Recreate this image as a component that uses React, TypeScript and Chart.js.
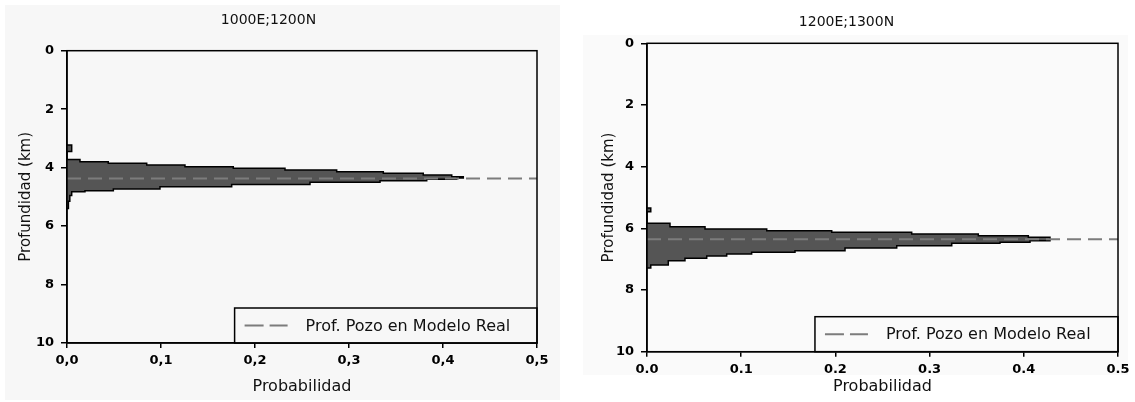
import React, { useEffect, useRef } from 'react';
import { Chart, registerables } from 'chart.js';

Chart.register(...registerables);
Chart.defaults.font.family = "'DejaVu Sans', sans-serif";

// ---------- data ----------
const leftTitle = '1000E;1200N';
const rightTitle = '1200E;1300N';
const xAxisTitle = 'Probabilidad';
const yAxisTitle = 'Profundidad (km)';
const legendLabel = 'Prof. Pozo en Modelo Real';
const xTickValues = [0, 0.1, 0.2, 0.3, 0.4, 0.5];
const xTickLabelsLeft = ['0,0', '0,1', '0,2', '0,3', '0,4', '0,5'];
const xTickLabelsRight = ['0.0', '0.1', '0.2', '0.3', '0.4', '0.5'];
const yTickValues = [0, 2, 4, 6, 8, 10];
const yTickLabels = ['0', '2', '4', '6', '8', '10'];

// histogram bins (depth edges in km) and probability per bin
const leftDepthEdges = [3.23, 3.45, 3.722, 3.797, 3.852, 3.91, 3.969, 4.023, 4.081, 4.14, 4.194, 4.252, 4.311, 4.355, 4.4, 4.447, 4.502, 4.577, 4.653, 4.731, 4.79, 4.824, 4.95, 5.15, 5.4];
const leftProbs = [0.005, 0, 0.0138, 0.0439, 0.0848, 0.1255, 0.1769, 0.2319, 0.2869, 0.3365, 0.379, 0.4093, 0.4216, 0.4146, 0.3827, 0.333, 0.2585, 0.1752, 0.0989, 0.0493, 0.0191, 0.005, 0.003, 0.0015];
const leftWellDepth = 4.37;

const rightDepthEdges = [5.34, 5.46, 5.837, 5.947, 6.021, 6.077, 6.128, 6.184, 6.239, 6.291, 6.401, 6.453, 6.485, 6.563, 6.637, 6.725, 6.777, 6.832, 6.897, 6.971, 7.049, 7.189, 7.286];
const rightProbs = [0.004, 0, 0.0244, 0.0616, 0.1271, 0.1961, 0.281, 0.3517, 0.4048, 0.4278, 0.4066, 0.3747, 0.3235, 0.2651, 0.2102, 0.1571, 0.1111, 0.0846, 0.0634, 0.0403, 0.0226, 0.004];
const rightWellDepth = 6.355;

const xMin = 0;
const xMax = 0.5;
const yMin = 0;
const yMax = 10;

function stepPoints(edges: number[], probs: number[]) {
  const pts: { x: number; y: number }[] = [{ x: 0, y: edges[0] }];
  probs.forEach((p, i) => {
    pts.push({ x: p, y: edges[i] });
    pts.push({ x: p, y: edges[i + 1] });
  });
  pts.push({ x: 0, y: edges[edges.length - 1] });
  return pts;
}

function labelFor(values: number[], labels: string[], v: number) {
  let best = 0;
  values.forEach((tv, i) => {
    if (Math.abs(tv - v) < Math.abs(values[best] - v)) best = i;
  });
  return labels[best];
}

const frameLegendPlugin = {
  id: 'frameLegend',
  afterDraw(chart: any, _args: any, opts: any) {
    const { ctx, chartArea: a } = chart;
    const ds = chart.data.datasets[0];
    ctx.save();
    // legend box
    const bx = a.left + (a.right - a.left) * opts.boxStart;
    const bh = opts.boxHeight;
    const by = a.bottom - bh;
    ctx.fillStyle = opts.bg;
    ctx.fillRect(bx, by, a.right - bx, bh);
    ctx.strokeStyle = '#000';
    ctx.lineWidth = 1.5;
    ctx.strokeRect(bx, by, a.right - bx, bh);
    const cy = by + bh / 2;
    ctx.strokeStyle = ds.borderColor;
    ctx.lineWidth = ds.borderWidth;
    ctx.setLineDash([19, 6]);
    ctx.beginPath();
    ctx.moveTo(bx + 10, cy);
    ctx.lineTo(bx + 53, cy);
    ctx.stroke();
    ctx.setLineDash([]);
    ctx.fillStyle = '#111';
    ctx.font = "16px 'DejaVu Sans', sans-serif";
    ctx.textAlign = 'left';
    ctx.textBaseline = 'middle';
    ctx.fillText(ds.label, bx + 71, cy + 1);
    // frame
    ctx.strokeStyle = '#000';
    ctx.lineWidth = 1.5;
    ctx.strokeRect(a.left, a.top, a.right - a.left, a.bottom - a.top);
    ctx.restore();
  },
};

type P = {
  title: string;
  xLabels: string[];
  edges: number[];
  probs: number[];
  well: number;
  padRight: number;
  titleTop: number;
  titleBottom: number;
  xAxisHeight: number;
  yAxisWidth: number;
  yTitlePad: number;
  bg: string;
};

function makeConfig(p: P): any {
  return {
    type: 'line',
    data: {
      datasets: [
        {
          label: legendLabel,
          data: [
            { x: xMin, y: p.well },
            { x: xMax, y: p.well },
          ],
          borderColor: '#7c7c7c',
          borderWidth: 2,
          borderDash: [14, 7],
          pointRadius: 0,
          fill: false,
          order: 0,
        },
        {
          label: 'hist',
          data: stepPoints(p.edges, p.probs),
          borderColor: '#000',
          borderWidth: 1.5,
          backgroundColor: '#555555',
          fill: 'shape',
          pointRadius: 0,
          tension: 0,
          order: 1,
        },
      ],
    },
    options: {
      responsive: false,
      animation: false,
      events: [],
      layout: { padding: { left: 0, right: p.padRight, top: 0, bottom: 0 } },
      plugins: {
        legend: { display: false },
        tooltip: { enabled: false },
        title: {
          display: true,
          text: p.title,
          color: '#111',
          font: { size: 14, weight: 'normal' },
          padding: { top: p.titleTop, bottom: p.titleBottom },
        },
        frameLegend: { boxStart: 0.3566, boxHeight: 35, bg: p.bg },
      },
      scales: {
        x: {
          type: 'linear',
          min: xMin,
          max: xMax,
          afterFit: (s: any) => {
            s.height = p.xAxisHeight;
          },
          ticks: {
            stepSize: 0.1,
            autoSkip: false,
            maxRotation: 0,
            color: '#000',
            padding: 5,
            font: { size: 13, weight: 'bold' },
            callback: (v: any) => labelFor(xTickValues, p.xLabels, Number(v)),
          },
          grid: { drawOnChartArea: false, drawTicks: true, tickLength: 5, color: '#000', lineWidth: 1.5 },
          border: { display: true, color: '#000', width: 1.5 },
          title: {
            display: true,
            text: xAxisTitle,
            color: '#111',
            font: { size: 16 },
            padding: { top: 0, bottom: 5.7 },
          },
        },
        y: {
          type: 'linear',
          min: yMin,
          max: yMax,
          reverse: true,
          afterFit: (s: any) => {
            s.width = p.yAxisWidth;
          },
          ticks: {
            stepSize: 2,
            autoSkip: false,
            color: '#000',
            padding: 7,
            font: { size: 13, weight: 'bold' },
            callback: (v: any) => labelFor(yTickValues, yTickLabels, Number(v)),
          },
          grid: { drawOnChartArea: false, drawTicks: true, tickLength: 6, color: '#000', lineWidth: 1.5 },
          border: { display: true, color: '#000', width: 1.5 },
          title: {
            display: true,
            text: yAxisTitle,
            color: '#111',
            font: { size: 15 },
            padding: { top: p.yTitlePad, bottom: 0 },
          },
        },
      },
    },
    plugins: [frameLegendPlugin],
  };
}

function ChartPanel({ cfg, left, width }: { cfg: P; left: number; width: number }) {
  const ref = useRef<HTMLCanvasElement | null>(null);
  useEffect(() => {
    if (!ref.current) return;
    const chart = new Chart(ref.current, makeConfig(cfg));
    return () => chart.destroy();
  }, []);
  return (
    <canvas
      ref={ref}
      width={width}
      height={402}
      style={{ position: 'absolute', left, top: 0, width, height: 402 }}
    />
  );
}

const leftCfg: P = {
  title: leftTitle,
  xLabels: xTickLabelsLeft,
  edges: leftDepthEdges,
  probs: leftProbs,
  well: leftWellDepth,
  padRight: 33,
  titleTop: 11.6,
  titleBottom: 22.3,
  xAxisHeight: 59,
  yAxisWidth: 67,
  yTitlePad: 17,
  bg: '#f7f7f7',
};

const rightCfg: P = {
  title: rightTitle,
  xLabels: xTickLabelsRight,
  edges: rightDepthEdges,
  probs: rightProbs,
  well: rightWellDepth,
  padRight: 17,
  titleTop: 13.6,
  titleBottom: 12.9,
  xAxisHeight: 50.3,
  yAxisWidth: 72,
  yTitlePad: 25,
  bg: '#fafafa',
};

export default function App() {
  return (
    <div style={{ position: 'absolute', left: 0, top: 0, width: 1135, height: 402, background: '#ffffff', overflow: 'hidden' }}>
      <div style={{ position: 'absolute', left: 5, top: 5, width: 555, height: 395, background: '#f7f7f7' }} />
      <div style={{ position: 'absolute', left: 583, top: 35, width: 545, height: 340, background: '#fafafa' }} />
      <ChartPanel cfg={leftCfg} left={0} width={570} />
      <ChartPanel cfg={rightCfg} left={575} width={560} />
    </div>
  );
}
